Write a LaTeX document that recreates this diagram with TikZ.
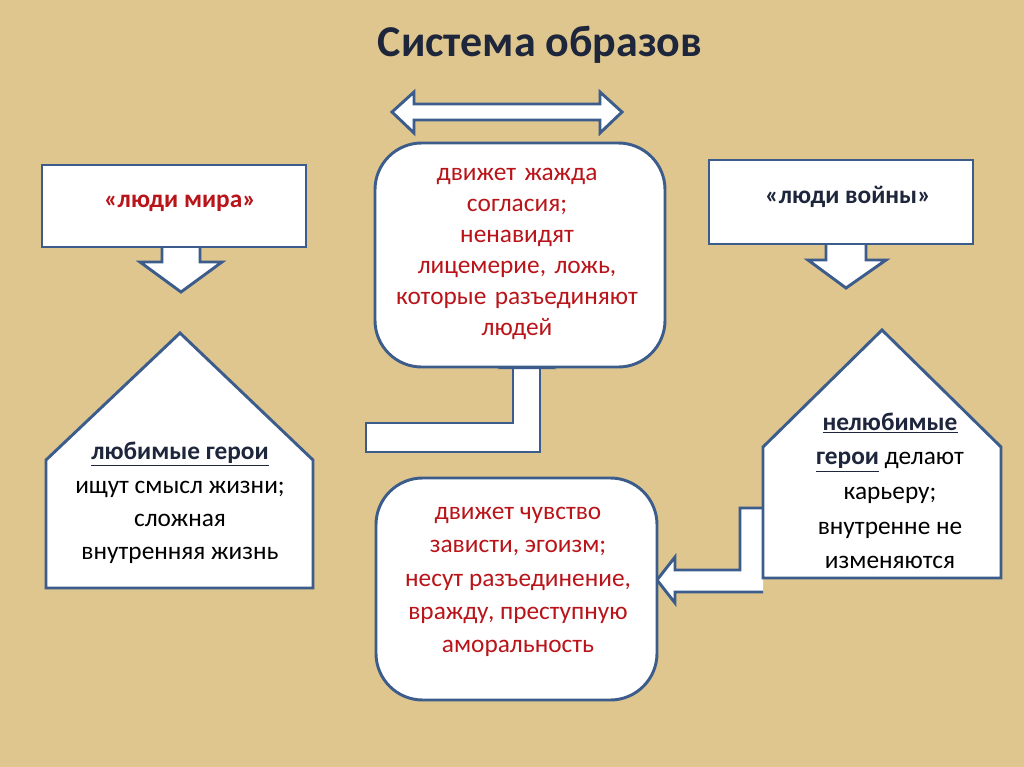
\documentclass[tikz,border=0pt]{standalone}
\usepackage{fontspec}
\setmainfont{Carlito}
\begin{document}
\begin{tikzpicture}[x=0.75pt,y=-0.75pt]
\definecolor{bg}{RGB}{222,198,142}
\definecolor{ol}{RGB}{60,92,140}
\definecolor{rd}{RGB}{185,20,25}
\definecolor{tt}{RGB}{30,38,60}
\tikzset{sh/.style={draw=ol,fill=white,line width=2.2pt,line join=miter},
 txt/.style={font=\fontsize{19}{23}\selectfont,align=center,text=rd},
 dtxt/.style={font=\fontsize{19}{23}\selectfont,align=center,text=tt}}
\fill[bg] (0,0) rectangle (1024,767);
\useasboundingbox (0,0) rectangle (1024,767);
\node[font=\bfseries\fontsize{33}{38}\selectfont,text=tt] (title) at (540,45) {Система образов};
% double arrow
\draw[sh] (392,112) -- (414,92) -- (414,104) -- (600,104) -- (600,92) -- (622,112) -- (600,133) -- (600,120) -- (414,120) -- (414,133) -- cycle;
% bent arrow from middle box
\draw[sh] (513,368) -- (513,423) -- (366,423) -- (366,452) -- (540,452) -- (540,368);
\fill[ol] (497,369) -- (557,369) -- (540,364) -- (513,364) -- cycle;
% bent arrow to bottom box
\draw[sh] (763,508) -- (740,508) -- (740,570) -- (675,570) -- (675,557) -- (657,580) -- (675,603) -- (675,592) -- (763,592);
% left rect and arrow
\draw[sh] (162,245) -- (162,262) -- (140,262) -- (181,292) -- (222,262) -- (200,262) -- (200,245);
\draw[sh] (42,165) rectangle (306,247);
\node[txt,font=\bfseries\fontsize{19}{23}\selectfont] (lmt) at (180,203) {«люди мира»};
% right rect and arrow
\draw[sh] (826,242) -- (826,260) -- (808,260) -- (846,288) -- (886,260) -- (866,260) -- (866,242);
\draw[sh] (709,160) rectangle (973,244);
\node[dtxt,font=\bfseries\fontsize{19}{23}\selectfont] (lv) at (848,197) {«люди войны»};
% middle top box
\draw[sh,rounded corners=35] (375,143) rectangle (665,367);
\node[txt,text width=280,font=\fontsize{19}{23.3}\selectfont] (mt) at (517,254) {движет жажда\\согласия;\\ненавидят\\лицемерие, ложь,\\которые разъединяют\\людей};
% bottom box
\draw[sh,rounded corners=35] (376,478) rectangle (657,700);
\node[txt,font=\fontsize{19}{25}\selectfont] (mb) at (518,582) {движет чувство\\зависти, эгоизм;\\несут разъединение,\\вражду, преступную\\аморальность};
% left house
\draw[sh] (46,460) -- (180,333) -- (313,460) -- (313,588) -- (46,588) -- cycle;
\node[dtxt,font=\fontsize{19}{25}\selectfont,text=black] (lh) at (180,503) {\textcolor{tt}{\bfseries\underline{любимые герои}}\\ищут смысл жизни;\\сложная\\внутренняя жизнь};
% right house
\draw[sh] (763,447) -- (882,330) -- (1001,447) -- (1001,578) -- (763,578) -- cycle;
\node[dtxt,font=\fontsize{19}{26}\selectfont,text=black] (rh) at (890,491) {\textcolor{tt}{\bfseries\underline{нелюбимые}}\\\textcolor{tt}{\bfseries\underline{герои}} делают\\карьеру;\\внутренне не\\изменяются};
\end{tikzpicture}
\end{document}
